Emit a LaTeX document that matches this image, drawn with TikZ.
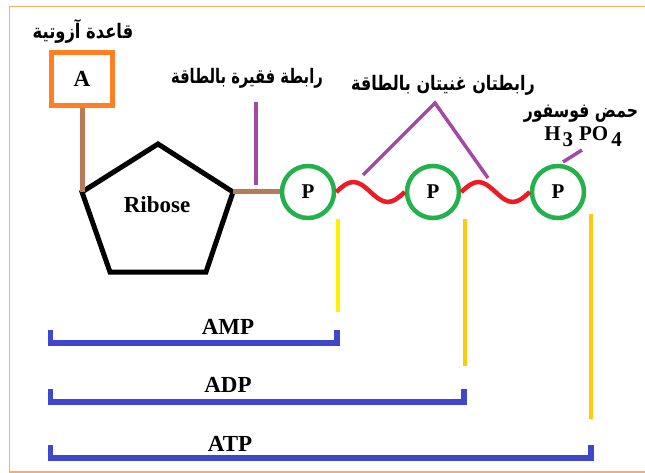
\documentclass[tikz,border=0pt]{standalone}
\usepackage{fontspec}
\setmainfont{Liberation Serif}
\newfontfamily\arabicfont[Script=Arabic]{DejaVu Sans}
\TeXXeTstate=1
\usetikzlibrary{calc}
\definecolor{frameor}{RGB}{250,172,105}
\definecolor{boxor}{RGB}{255,127,39}
\definecolor{brn}{RGB}{185,122,87}
\definecolor{prp}{RGB}{163,73,164}
\definecolor{grn}{RGB}{34,177,76}
\definecolor{rd}{RGB}{237,28,36}
\definecolor{ylw}{RGB}{255,242,0}
\definecolor{gld}{RGB}{255,201,14}
\definecolor{blu}{RGB}{63,72,204}
\begin{document}
\begin{tikzpicture}[x=1pt,y=-1pt,
  artext/.style={font=\arabicfont\bfseries\fontsize{16}{18}\selectfont, inner sep=0pt},
  lattext/.style={font=\bfseries\fontsize{23}{25}\selectfont, inner sep=0pt},
  pcirc/.style={circle, draw=grn, line width=4.5, minimum size=52, inner sep=0pt, font=\bfseries\fontsize{21}{21}\selectfont},
  brownline/.style={draw=brn, line width=5},
  purpleline/.style={draw=prp, line width=3.5},
  wave/.style={draw=rd, line width=4.5},
  ybar/.style={line width=3.3},
  bracket/.style={draw=blu, line width=5.5, miter limit=10}
]
\useasboundingbox (0,0) rectangle (645,473);
% frame
\draw[frameor, line width=1.5] (645,6.5) -- (9.5,6.5) -- (9.5,472) -- (645,472);

% base
\node[artext] (baselbl) at (83,31) {\scalebox{1.02}[1.25]{\beginR قاعدة آزوتية\endR}};
\node[draw=boxor, line width=5, minimum width=61, minimum height=53, inner sep=0pt, lattext] (a) at (82,79) {A};

% ribose pentagon
\coordinate (pt) at (158,144);
\coordinate (pr) at (233,192);
\coordinate (pbr) at (206,272);
\coordinate (pbl) at (110,272);
\coordinate (pl) at (82,192);
\draw[line width=5, line join=miter] (pt) -- (pr) -- (pbr) -- (pbl) -- (pl) -- cycle;
\node[lattext] (rib) at (157,205) {Ribose};

% phosphates
\node[pcirc] (p1) at (308,192) {P};
\node[pcirc] (p2) at (433,192) {P};
\node[pcirc] (p3) at (558,192) {P};

\draw[brownline] (a.south) -- (pl);
\draw[brownline] (pr) -- (p1.west);

% waves
\draw[wave] (p1.east) sin ($(p1.east)!0.25!(p2.west)+(0,-10)$) cos ($(p1.east)!0.5!(p2.west)$) sin ($(p1.east)!0.75!(p2.west)+(0,10)$) cos (p2.west);
\draw[wave] (p2.east) sin ($(p2.east)!0.25!(p3.west)+(0,-10)$) cos ($(p2.east)!0.5!(p3.west)$) sin ($(p2.east)!0.75!(p3.west)+(0,10)$) cos (p3.west);

% labels and pointers
\node[artext] (poorlbl) at (247,78) {\scalebox{0.92}[1.25]{\beginR رابطة فقيرة بالطاقة\endR}};
\coordinate (poortop) at (256,102);
\coordinate (poorbot) at (256,185);
\draw[purpleline] (poortop) -- (poorbot);

\node[artext] (richlbl) at (443,85) {\scalebox{1.0}[1.25]{\beginR رابطتان غنيتان بالطاقة\endR}};
\coordinate (apex) at (435,103);
\coordinate (rich1) at (363,175);
\coordinate (rich2) at (488,178);
\draw[purpleline] (rich1) -- (apex) -- (rich2);

\node[artext] (acidlbl) at (581,114) {\scalebox{0.98}[1.25]{\beginR حمض فوسفور\endR}};
\node[font=\bfseries\fontsize{21}{21}\selectfont, inner sep=0pt] (formula) at (583,137) {H\hspace{2pt}\raisebox{-6pt}{3}\hspace{6pt}PO\hspace{3pt}\raisebox{-6pt}{4}};
\coordinate (acidA) at (582,150);
\coordinate (acidB) at (563,162);
\draw[purpleline] (acidA) -- (acidB);

% yellow markers
\coordinate (y1t) at (338,219); \coordinate (y1b) at (338,312);
\coordinate (y2t) at (465,219); \coordinate (y2b) at (465,366);
\coordinate (y3t) at (591,214); \coordinate (y3b) at (591,419);
\draw[ybar, ylw] (y1t) -- (y1b);
\draw[ybar, gld] (y2t) -- (y2b);
\draw[ybar, gld] (y3t) -- (y3b);

% brackets
\draw[bracket] (50.5,330) -- (50.5,343) -- (337,343) -- (337,330);
\draw[bracket] (50.5,389) -- (50.5,402) -- (464,402) -- (464,389);
\draw[bracket] (50.5,445) -- (50.5,458) -- (591,458) -- (591,445);
\node[lattext] (amp) at (228,327) {AMP};
\node[lattext] (adp) at (228,385) {ADP};
\node[lattext] (atp) at (230,444) {ATP};
\end{tikzpicture}
\end{document}
